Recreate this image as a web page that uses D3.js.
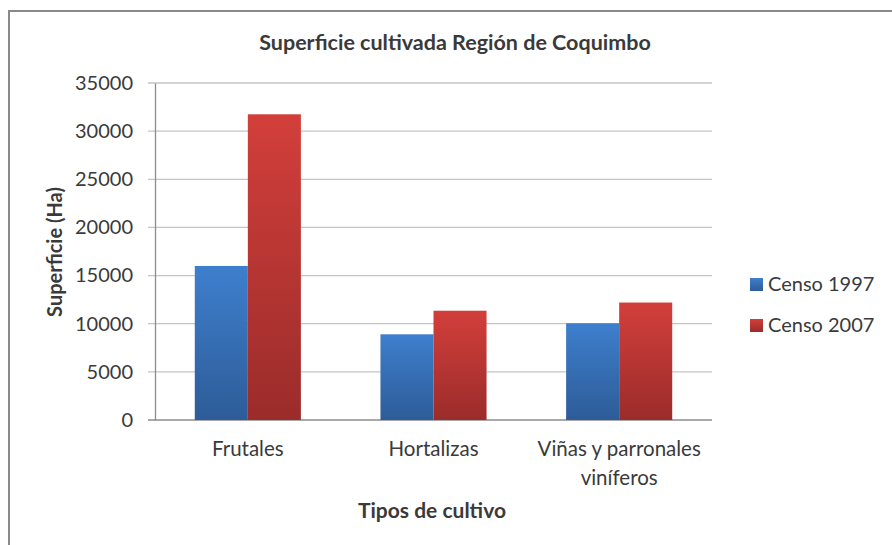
<!DOCTYPE html>
<html>
<head>
<meta charset="utf-8">
<script src="https://cdn.jsdelivr.net/npm/d3@7"></script>
<style>
  body { margin: 0; background: #fff; }
  text { font-family: Lato, "Open Sans", sans-serif; fill: #3a3a3a; }
</style>
</head>
<body>
<div id="container"></div>
<script>
const categories = ["Frutales", "Hortalizas", "Viñas y parronales viníferos"];
const seriesNames = ["Censo 1997", "Censo 2007"];
const censo1997 = [16000, 8900, 10050];
const censo2007 = [31750, 11350, 12200];
const yTicks = [0, 5000, 10000, 15000, 20000, 25000, 30000, 35000];

const width = 892, height = 545;
const margin = { top: 83, left: 155, right: 180, bottom: 125 };

const svg = d3.select("#container").append("svg")
  .attr("width", width).attr("height", height);

// marco
svg.append("path")
  .attr("d", `M9,${height} V11 H${width}`)
  .attr("fill", "none").attr("stroke", "#8a8a8a").attr("stroke-width", 2);

// degradados
const defs = svg.append("defs");
const grads = [["g0", "#3e7fcd", "#2d5c98"], ["g1", "#d23f3b", "#9b2c2a"]];
grads.forEach(([id, top, bot]) => {
  const g = defs.append("linearGradient").attr("id", id)
    .attr("x1", 0).attr("y1", 0).attr("x2", 0).attr("y2", 1);
  g.append("stop").attr("offset", "0%").attr("stop-color", top);
  g.append("stop").attr("offset", "100%").attr("stop-color", bot);
});

const x0 = d3.scaleBand().domain(categories)
  .range([margin.left, width - margin.right]).paddingInner(0).paddingOuter(0);
const groupW = x0.bandwidth() / 1.75;
const x1 = d3.scaleBand().domain(seriesNames).range([0, groupW]);
const y = d3.scaleLinear().domain([0, 35000]).range([height - margin.bottom, margin.top]);

// rejilla
svg.append("g").selectAll("line").data(yTicks).enter().append("line")
  .attr("x1", margin.left - 7).attr("x2", width - margin.right)
  .attr("y1", d => y(d)).attr("y2", d => y(d))
  .attr("stroke", d => d === 0 ? "#8c8c8c" : "#c4c4c4").attr("stroke-width", 1.3);

// eje y
const yAxis = d3.axisLeft(y).tickValues(yTicks).tickSize(0).tickPadding(22)
  .tickFormat(d3.format("d"));
const gy = svg.append("g").attr("transform", `translate(${margin.left},0)`).call(yAxis);
gy.select(".domain").attr("stroke", "#8c8c8c").attr("stroke-width", 1.3);
gy.selectAll("text").style("font-size", "20px").style("font-family", "Lato, sans-serif")
  .attr("fill", "#3a3a3a");

// barras
const rows = categories.map((c, i) => ({ cat: c, vals: [censo1997[i], censo2007[i]] }));
const grp = svg.append("g").selectAll("g").data(rows).enter().append("g")
  .attr("transform", d => `translate(${x0(d.cat) + (x0.bandwidth() - groupW) / 2},0)`);
grp.selectAll("rect").data(d => d.vals.map((v, j) => ({ v, s: seriesNames[j], j })))
  .enter().append("rect")
  .attr("x", d => x1(d.s)).attr("width", x1.bandwidth())
  .attr("y", d => y(d.v)).attr("height", d => y(0) - y(d.v))
  .attr("fill", d => `url(#g${d.j})`);

// etiquetas eje x
const xLabels = [["Frutales"], ["Hortalizas"], ["Viñas y parronales", "viníferos"]];
categories.forEach((c, i) => {
  const t = svg.append("text")
    .attr("x", x0(c) + x0.bandwidth() / 2).attr("y", 456)
    .attr("text-anchor", "middle").style("font-size", "20.5px");
  xLabels[i].forEach((line, k) => {
    t.append("tspan").attr("x", x0(c) + x0.bandwidth() / 2)
      .attr("dy", k === 0 ? 0 : 29).text(line);
  });
});

// títulos
svg.append("text").attr("x", 455).attr("y", 50).attr("text-anchor", "middle")
  .style("font-size", "21.5px").style("font-weight", "bold").attr("fill", "#222")
  .text("Superficie cultivada Región de Coquimbo");
svg.append("text").attr("x", 432).attr("y", 518).attr("text-anchor", "middle")
  .style("font-size", "21px").style("font-weight", "bold").attr("fill", "#222")
  .text("Tipos de cultivo");
svg.append("text").attr("transform", "translate(62,252) rotate(-90)")
  .attr("text-anchor", "middle")
  .style("font-size", "20px").style("font-weight", "bold").attr("fill", "#222")
  .text("Superficie (Ha)");

// leyenda
const leg = svg.append("g").selectAll("g").data(seriesNames).enter().append("g")
  .attr("transform", (d, i) => `translate(750,${284 + i * 41})`);
leg.append("rect").attr("x", 0).attr("y", -6).attr("width", 13).attr("height", 13)
  .attr("fill", (d, i) => `url(#g${i})`);
leg.append("text").attr("x", 18).attr("y", 7).style("font-size", "20px").text(d => d);
</script>
</body>
</html>
